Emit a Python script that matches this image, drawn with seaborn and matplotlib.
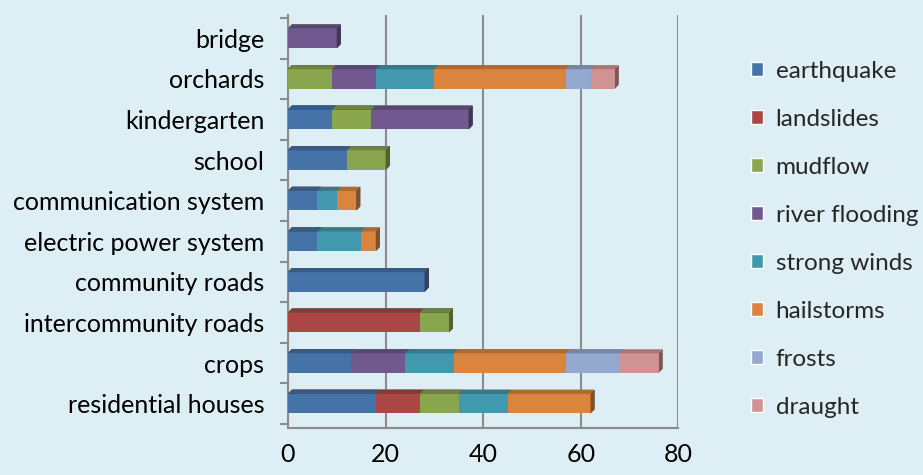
import numpy as np
import pandas as pd
import matplotlib
matplotlib.use('Agg')
import matplotlib.pyplot as plt
from matplotlib.patches import Patch, Polygon
import matplotlib.colors as mcolors
import seaborn as sns

objects = ['bridge', 'orchards', 'kindergarten', 'school', 'communication system',
           'electric power system', 'community roads', 'intercommunity roads',
           'crops', 'residential houses']
hazards = ['earthquake', 'landslides', 'mudflow', 'river flooding',
           'strong winds', 'hailstorms', 'frosts', 'draught']
colors = ['#4572A7', '#AA4643', '#89A54E', '#71588F',
          '#4198AF', '#DB843D', '#93A9CF', '#D19392']

earthquake = [0, 0, 9, 12, 6, 6, 28, 0, 13, 18]
landslides = [0, 0, 0, 0, 0, 0, 0, 27, 0, 9]
mudflow = [0, 9, 8, 8, 0, 0, 0, 6, 0, 8]
river_flooding = [10, 9, 20, 0, 0, 0, 0, 0, 11, 0]
strong_winds = [0, 12, 0, 0, 4, 9, 0, 0, 10, 10]
hailstorms = [0, 27, 0, 0, 4, 3, 0, 0, 23, 17]
frosts = [0, 5, 0, 0, 0, 0, 0, 0, 11, 0]
draught = [0, 5, 0, 0, 0, 0, 0, 0, 8, 0]

df = pd.DataFrame({'object': objects, 'earthquake': earthquake, 'landslides': landslides,
                   'mudflow': mudflow, 'river flooding': river_flooding,
                   'strong winds': strong_winds, 'hailstorms': hailstorms,
                   'frosts': frosts, 'draught': draught})
cum = df[hazards].cumsum(axis=1)
totals = cum[hazards[-1]]

bg = '#DDEEF4'
sns.set_theme(style='white')
plt.rcParams['font.family'] = ['Lato', 'DejaVu Sans']


def darker(c, f):
    r, g, b = mcolors.to_rgb(c)
    return (r * f, g * f, b * f)


fig = plt.figure(figsize=(9.23, 4.75), dpi=100, facecolor=bg)
ax = fig.add_axes([0.312, 0.099, 0.423, 0.869])
ax.set_facecolor(bg)

# 3d look: depth of the bars in data units
ddx, ddy = 0.8, 0.1

# stacked bars: draw cumulative totals from the largest down
for i in range(len(hazards) - 1, -1, -1):
    n0 = len(ax.patches)
    sns.barplot(x=cum[hazards[i]], y=df['object'], order=objects, color=colors[i],
                orient='h', width=0.48, saturation=1, ax=ax, zorder=3,
                edgecolor='none', linewidth=0)
    for k, p in enumerate(list(ax.patches[n0:])):
        w = p.get_width()
        if w <= 0:
            continue
        x0, y0, h = p.get_x(), p.get_y(), p.get_height()
        top = Polygon([(x0, y0), (x0 + ddx, y0 - ddy), (x0 + w + ddx, y0 - ddy), (x0 + w, y0)],
                      closed=True, facecolor=darker(colors[i], 0.8), edgecolor='none', zorder=3)
        ax.add_patch(top)
        # side face only at the end of the whole stack
        if w == totals[k]:
            side = Polygon([(x0 + w, y0), (x0 + w + ddx, y0 - ddy), (x0 + w + ddx, y0 + h - ddy),
                            (x0 + w, y0 + h)],
                           closed=True, facecolor=darker(colors[i], 0.6), edgecolor='none',
                           zorder=3)
            ax.add_patch(side)

ax.set_xlim(0, 80)
ax.set_ylim(9.6, -0.57)
ax.set_xticks([0, 20, 40, 60, 80])
ax.xaxis.grid(True, color='#8C8C8C', linewidth=1.5, zorder=0)
ax.set_xlabel('')
ax.set_ylabel('')
for s in ['top', 'right']:
    ax.spines[s].set_visible(False)
for s in ['left', 'bottom']:
    ax.spines[s].set_color('#8C8C8C')
    ax.spines[s].set_linewidth(1.5)
ax.tick_params(axis='both', labelsize=18, colors='#8C8C8C', labelcolor='black',
               length=6, width=1.5)
# y tick marks sit between the categories
ax.set_yticks(np.arange(-0.5, len(objects)), minor=True)
ax.tick_params(axis='y', which='major', length=0, pad=17)
ax.tick_params(axis='y', which='minor', left=True, length=6, width=1.5, color='#8C8C8C')
ax.tick_params(axis='x', pad=5)

handles = [Patch(facecolor=c, label=h) for h, c in zip(hazards, colors)]
fig.legend(handles=handles, loc='upper left', bbox_to_anchor=(0.814, 0.872),
           frameon=False, fontsize=17.5, handlelength=0.5, handleheight=0.5,
           handletextpad=0.5, labelspacing=1.11, borderpad=0, borderaxespad=0)

fig.savefig('out.png', dpi=100, facecolor=bg)
